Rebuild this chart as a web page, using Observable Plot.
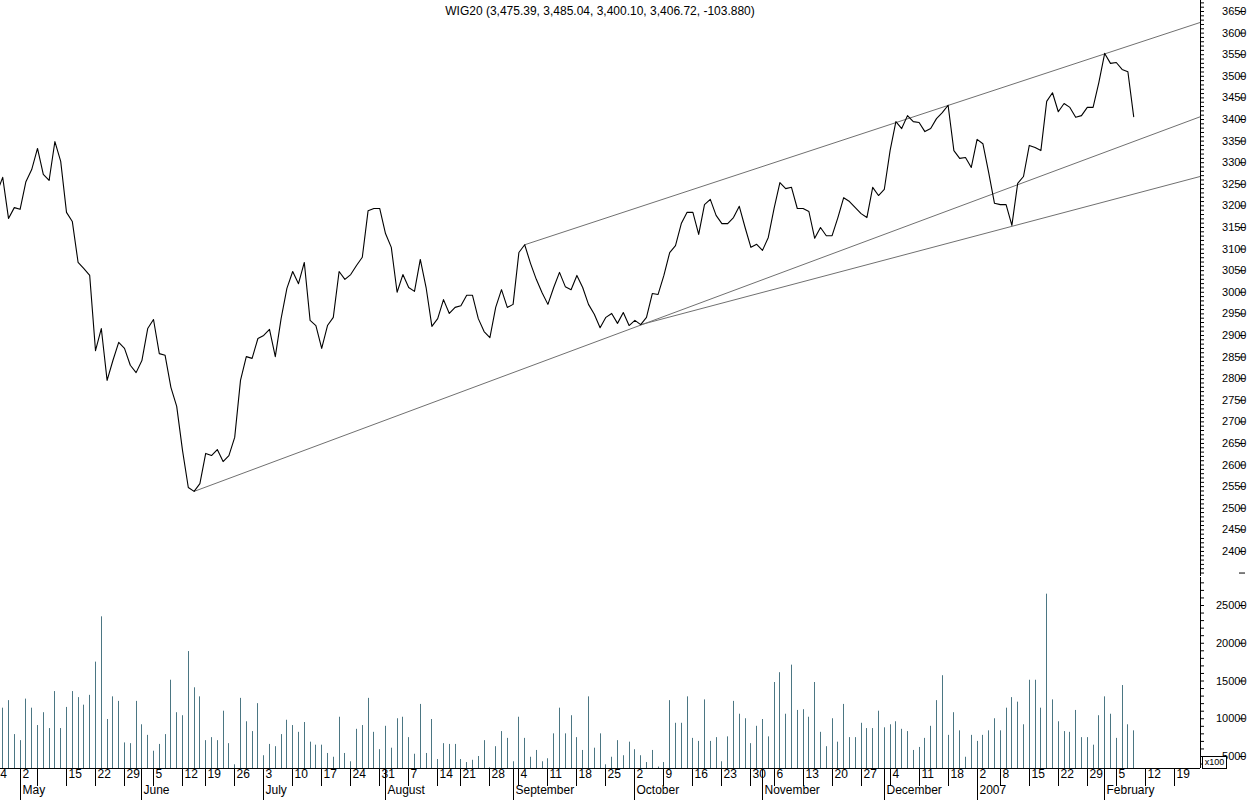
<!DOCTYPE html>
<html><head><meta charset="utf-8">
<script src="https://cdn.jsdelivr.net/npm/d3@7"></script>
<script src="https://cdn.jsdelivr.net/npm/@observablehq/plot@0.6"></script>
<style>
body{margin:0;background:#fff;font-family:"Liberation Sans",Arial,sans-serif;}
#wrap{position:relative;width:1250px;height:800px;overflow:hidden;background:#fff;}
#price,#vol{position:absolute;left:0;}
#price{top:0}
#vol{top:576px}
#title{position:absolute;top:4px;left:0;width:1200px;text-align:center;font-size:12px;line-height:14px;color:#000;}
#x100{position:absolute;left:1202px;top:756px;width:23px;height:11px;border:1px solid #000;background:#fff;font-size:9px;line-height:11px;text-align:center;}
</style></head><body>
<div id="wrap"><div id="price"></div><div id="vol"></div><div id="title"></div><div id="x100"></div></div>
<script>
const titleText = "WIG20 (3,475.39, 3,485.04, 3,400.10, 3,406.72, -103.880)";
const volumeUnit = "x100";

// trading calendar
const firstDay = "2006-04-24";
const lastAxisDay = "2007-02-28";
const noSession = ["2006-05-01","2006-05-03","2006-06-15","2006-08-15","2006-11-01","2006-12-25","2006-12-26","2006-12-27","2006-12-28","2006-12-29","2007-01-01"];

// daily closes from closeStart
const closeStart = "2006-04-25";
const close = [
 3231,3266,3171,3196,3192,3256,3284,3333,3273,3259,3349,
 3303,3185,3164,3069,3055,3039,2865,2916,2796,2842,
 2884,2870,2831,2814,2842,2916,2937,2858,2854,2780,
 2736,2634,2548,2539,2557,2627,2622,2636,2608,2622,
 2664,2796,2851,2847,2893,2900,2914,2851,2939,3009,
 3048,3020,3069,2935,2923,2870,2923,2942,3048,3030,
 3041,3062,3081,3189,3194,3194,3136,3104,3000,3041,
 3011,3002,3076,3011,2921,2939,2983,2951,2965,2969,
 2993,2993,2939,2909,2895,2965,3006,2965,2972,3092,
 3110,3067,3030,2999,2972,3011,3046,3013,3006,3039,
 3011,2972,2949,2918,2942,2951,2928,2953,2923,2935,
 2925,2942,2997,2995,3039,3092,3108,3159,3185,3185,
 3134,3203,3215,3178,3159,3159,3173,3199,3150,3104,
 3111,3097,3127,3194,3254,3240,3243,3194,3194,3187,
 3125,3150,3131,3131,3173,3219,3210,3196,3182,3173,
 3243,3224,3238,3328,3395,3379,3409,3395,3393,3372,
 3379,3402,3416,3433,3328,3310,3312,3289,3354,3344,
 3277,3206,3203,3203,3155,3252,3268,3340,3335,3328,
 3442,3462,3418,3437,3428,3405,3409,3428,3428,3486,
 3553,3530,3532,3516,3510.6,3406.72
];

// daily volume (x100) from volumeStart
const volumeStart = "2006-04-26";
const volume = [
 11400,12400,7900,7100,12600,11400,9100,10800,8700,13600,
 8700,11500,13600,12800,11800,13100,17500,23500,9900,12900,
 12300,6800,6700,12300,9200,7800,5700,6600,7900,15100,
 10800,10400,18900,14100,12900,7100,7500,7100,11000,6700,
 3900,12700,9600,8300,12000,5100,6600,6300,7900,9800,
 9100,8200,9500,6900,6500,6500,5400,4900,10200,5400,
 4300,8600,9100,12700,8200,5900,9000,6100,10000,10200,
 7500,5300,11900,5400,9900,4600,6700,6600,6600,4600,
 4200,4500,5000,7100,3500,6300,8300,7400,4300,10200,
 7400,4900,5800,4300,4700,8000,11400,8000,10400,7500,
 5800,12900,6100,8000,3900,4900,7100,5100,6900,5900,
 5100,4200,5800,3600,4200,12400,9400,9400,12900,7400,
 7000,12500,7000,7500,4300,7600,12300,10600,10000,6700,
 9000,9900,7600,14800,16100,10600,17100,11100,11200,10200,
 14800,8200,6300,10000,6900,11900,7500,7500,9400,8700,
 8700,11000,8800,9200,9600,8600,8300,5800,6200,7400,
 9000,12400,15700,7800,10800,8400,4900,7800,7000,7800,
 8400,10000,8400,11400,12800,12200,9200,15100,15100,11400,
 26500,12500,9600,8300,8200,11100,7500,7500,6500,10400,
 12900,10600,7400,14400,9200,8400
];

// trend lines
const trendNames = ["support", "channelTop", "support2"];
const trendStartDate = ["2006-06-14", "2006-09-05", "2006-10-03"];
const trendStartValue = [2539, 3110, 2925];
const trendEndDate = "2007-02-26";
const trendEndValue = [3409, 3627, 3270];

// axis ticks
const weekDates = ["2006-04-24","2006-05-02","2006-05-08","2006-05-15","2006-05-22","2006-05-29","2006-06-05","2006-06-12","2006-06-19","2006-06-26","2006-07-03","2006-07-10","2006-07-17","2006-07-24","2006-07-31","2006-08-07","2006-08-14","2006-08-21","2006-08-28","2006-09-04","2006-09-11","2006-09-18","2006-09-25","2006-10-02","2006-10-09","2006-10-16","2006-10-23","2006-10-30","2006-11-06","2006-11-13","2006-11-20","2006-11-27","2006-12-04","2006-12-11","2006-12-18","2007-01-02","2007-01-08","2007-01-15","2007-01-22","2007-01-29","2007-02-05","2007-02-12","2007-02-19"];
const weekLabels = ["24","2","","15","22","29","5","12","19","26","3","10","17","24","31","7","14","21","28","4","11","18","25","2","9","16","23","30","6","13","20","27","4","11","18","2","8","15","22","29","5","12","19"];
const monthDates = ["2006-05-02","2006-06-01","2006-07-03","2006-08-01","2006-09-01","2006-10-02","2006-11-02","2006-12-01","2007-01-02","2007-02-01"];
const monthLabels = ["May","June","July","August","September","October","November","December","2007","February"];
const priceMajor = d3.range(2350, 3651, 50);
const priceMinor = d3.range(2350, 3671, 10);
const volMajor = [5000, 10000, 15000, 20000, 25000];
const volMinor = d3.range(4000, 28001, 1000);

// scale domains
const xDomain = [1.62, 208.52];
const priceDomain = [2342, 3675.5];
const volDomain = [3411, 28709];

// build calendar
const hol = new Set(noSession);
const days = [];
for (let d = new Date(firstDay + "T00:00:00Z"); d <= new Date(lastAxisDay + "T00:00:00Z"); d.setUTCDate(d.getUTCDate() + 1)) {
  const wd = d.getUTCDay(), s = d.toISOString().slice(0, 10);
  if (wd === 0 || wd === 6 || hol.has(s)) continue;
  days.push(s);
}
const K = new Map(days.map((s, k) => [s, k]));

const priceData = close.map((v, j) => ({k: K.get(closeStart) + j, v}));
const volData = volume.map((v, j) => ({k: K.get(volumeStart) + j, v}));
const trendData = trendNames.flatMap((n, j) => [
  {id: n, k: K.get(trendStartDate[j]), v: trendStartValue[j]},
  {id: n, k: K.get(trendEndDate), v: trendEndValue[j]}
]);
const weeks = weekDates.map((d, j) => ({k: K.get(d), label: weekLabels[j]}));
const months = monthDates.map((d, j) => ({k: K.get(d), label: monthLabels[j]}));

const font = {fontFamily: "'Liberation Sans', Arial, sans-serif", fontSize: "11px", background: "white", color: "black", overflow: "visible"};
const fmt = d => String(d);

const price = Plot.plot({
  width: 1250, height: 577, marginLeft: 0, marginRight: 50, marginTop: 0, marginBottom: 1,
  style: font,
  x: {type: "linear", domain: xDomain, axis: null},
  y: {domain: priceDomain, axis: null},
  marks: [
    Plot.ruleY([priceDomain[0]], {stroke: "black"}),
    Plot.ruleX([xDomain[1]], {stroke: "black"}),
    Plot.line(trendData, {x: "k", y: "v", z: "id", stroke: "#707070", strokeWidth: 1, clip: true}),
    Plot.line(priceData, {x: "k", y: "v", stroke: "black", strokeWidth: 1.1, clip: true}),
    Plot.axisY({ticks: priceMajor, anchor: "right", label: null, tickSize: 6, tickPadding: 2, textAnchor: "end", dx: 38, fontSize: 11, tickFormat: d => d < 2400 ? "" : fmt(d)}),
    Plot.axisY({ticks: priceMinor, anchor: "right", label: null, tickSize: 3, tickFormat: () => ""})
  ]
});
document.getElementById("price").appendChild(price);

const vol = Plot.plot({
  width: 1250, height: 224, marginLeft: 0, marginRight: 50, marginTop: 1, marginBottom: 32,
  style: font,
  x: {type: "linear", domain: xDomain, round: true},
  y: {domain: volDomain, axis: null},
  marks: [
    Plot.ruleX(volData, {x: "k", y1: volDomain[0], y2: "v", stroke: "#4b7683", strokeWidth: 1}),
    Plot.ruleY([volDomain[0]], {stroke: "black"}),
    Plot.ruleX([xDomain[1]], {stroke: "black"}),
    Plot.axisY({ticks: volMajor, anchor: "right", label: null, tickSize: 6, tickPadding: 2, textAnchor: "end", dx: 38, fontSize: 11, tickFormat: fmt}),
    Plot.axisY({ticks: volMinor, anchor: "right", label: null, tickSize: 3, tickFormat: () => ""}),
    Plot.axisX({ticks: weeks.map(d => d.k), anchor: "bottom", label: null, tickSize: 18, tickFormat: () => ""}),
    Plot.axisX({ticks: months.map(d => d.k), anchor: "bottom", label: null, tickSize: 32, tickFormat: () => ""}),
    Plot.text(weeks, {x: "k", text: "label", frameAnchor: "bottom", dy: 9, dx: 2, textAnchor: "start", fontSize: 12}),
    Plot.text(months, {x: "k", text: "label", frameAnchor: "bottom", dy: 25, dx: 2, textAnchor: "start", fontSize: 12})
  ]
});
document.getElementById("vol").appendChild(vol);

document.getElementById("title").textContent = titleText;
document.getElementById("x100").textContent = volumeUnit;
</script>
</body></html>
